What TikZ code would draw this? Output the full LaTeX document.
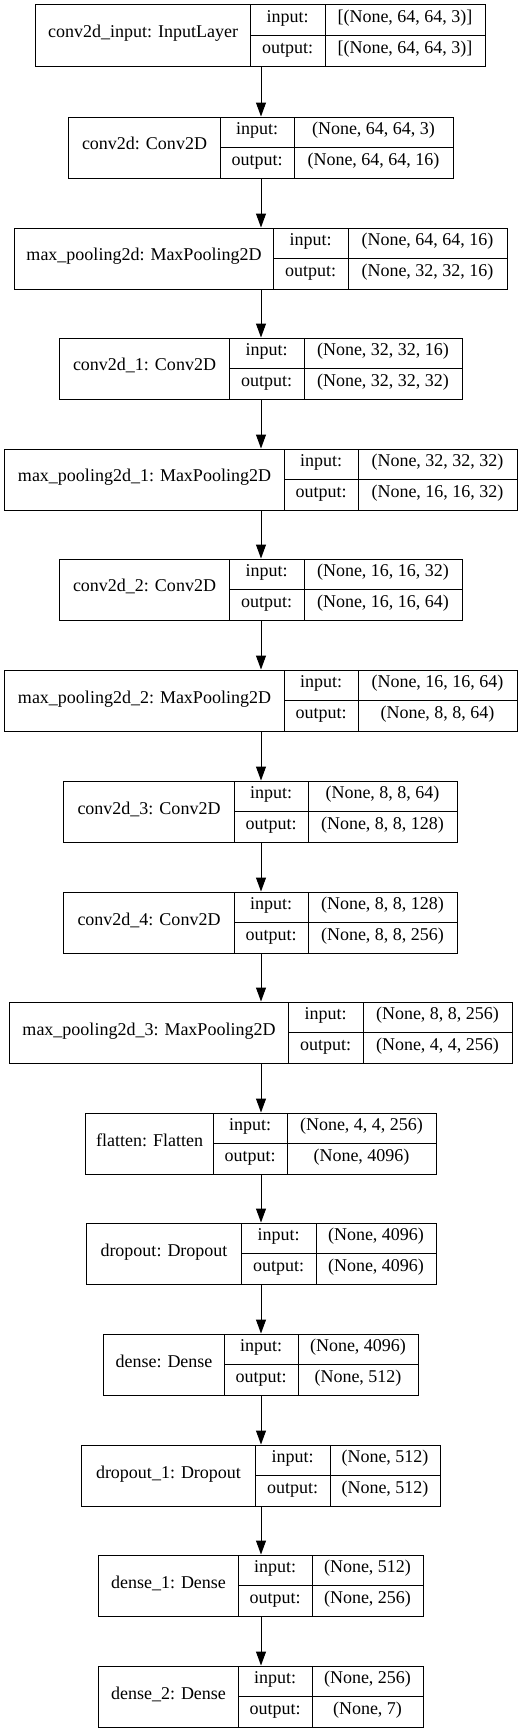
\documentclass[tikz,border=0pt]{standalone}
\usepackage{fontspec}
\setmainfont{Liberation Serif}
\usetikzlibrary{arrows.meta}
\tikzset{
  box/.style={draw=black, line width=1bp, rectangle, inner sep=0pt, outer sep=0pt, minimum height=61bp},
  div/.style={draw=black, line width=1bp},
  txt/.style={inner sep=0pt, outer sep=0pt, anchor=center, font=\fontsize{18bp}{21bp}\selectfont, text height=0.7em, text depth=0.2em},
  arr/.style={draw=black, line width=1bp, -{Triangle[length=14bp, width=10bp]}, shorten >=0.5bp}
}
% #1 name, #2 top, #3 left, #4 col1, #5 col2, #6 right, #7 label, #8 input, #9 output
\newcommand\kerasLayer[9]{%
  \pgfmathsetmacro\lyW{#6-#3}%
  \pgfmathsetmacro\lyX{(#3+#6)/2}%
  \pgfmathsetmacro\lyM{#2+30.5}%
  \pgfmathsetmacro\lyB{#2+61}%
  \pgfmathsetmacro\lyI{#2+15.25}%
  \pgfmathsetmacro\lyO{#2+45.75}%
  \node[box, minimum width=\lyW bp] (#1) at (\lyX,\lyM) {};
  \draw[div] (#4,#2) -- (#4,\lyB);
  \draw[div] (#5,#2) -- (#5,\lyB);
  \draw[div] (#4,\lyM) -- (#6,\lyM);
  \node[txt] (#1-name) at ({(#3+#4)/2},\lyM) {#7};
  \node[txt] (#1-inl) at ({(#4+#5)/2},\lyI) {input:};
  \node[txt] (#1-outl) at ({(#4+#5)/2},\lyO) {output:};
  \node[txt] (#1-inv) at ({(#5+#6)/2},\lyI) {#8};
  \node[txt] (#1-outv) at ({(#5+#6)/2},\lyO) {#9};
}
\begin{document}
\begin{tikzpicture}[x=1bp, y=-1bp]
\useasboundingbox[fill=white] (0,0) rectangle (523,1733);
\kerasLayer{l0}{5}{36}{250}{325}{485}{conv2d\_input: InputLayer}{[(None, 64, 64, 3)]}{[(None, 64, 64, 3)]}
\kerasLayer{l1}{117}{69}{220}{294}{453}{conv2d: Conv2D}{(None, 64, 64, 3)}{(None, 64, 64, 16)}
\kerasLayer{l2}{228}{15}{273}{348}{507}{max\_pooling2d: MaxPooling2D}{(None, 64, 64, 16)}{(None, 32, 32, 16)}
\kerasLayer{l3}{338}{60}{229}{304}{462}{conv2d\_1: Conv2D}{(None, 32, 32, 16)}{(None, 32, 32, 32)}
\kerasLayer{l4}{449}{5}{284}{358}{517}{max\_pooling2d\_1: MaxPooling2D}{(None, 32, 32, 32)}{(None, 16, 16, 32)}
\kerasLayer{l5}{559}{60}{229}{304}{462}{conv2d\_2: Conv2D}{(None, 16, 16, 32)}{(None, 16, 16, 64)}
\kerasLayer{l6}{670}{5}{284}{358}{517}{max\_pooling2d\_2: MaxPooling2D}{(None, 16, 16, 64)}{(None, 8, 8, 64)}
\kerasLayer{l7}{781}{64}{234}{308}{457}{conv2d\_3: Conv2D}{(None, 8, 8, 64)}{(None, 8, 8, 128)}
\kerasLayer{l8}{892}{64}{234}{308}{457}{conv2d\_4: Conv2D}{(None, 8, 8, 128)}{(None, 8, 8, 256)}
\kerasLayer{l9}{1002}{10}{288}{363}{512}{max\_pooling2d\_3: MaxPooling2D}{(None, 8, 8, 256)}{(None, 4, 4, 256)}
\kerasLayer{l10}{1113}{86}{213}{287}{436}{flatten: Flatten}{(None, 4, 4, 256)}{(None, 4096)}
\kerasLayer{l11}{1223}{87}{241}{316}{436}{dropout: Dropout}{(None, 4096)}{(None, 4096)}
\kerasLayer{l12}{1334}{104}{224}{298}{418}{dense: Dense}{(None, 4096)}{(None, 512)}
\kerasLayer{l13}{1445}{82}{255}{330}{440}{dropout\_1: Dropout}{(None, 512)}{(None, 512)}
\kerasLayer{l14}{1555}{99}{238}{312}{423}{dense\_1: Dense}{(None, 512)}{(None, 256)}
\kerasLayer{l15}{1666}{99}{238}{312}{423}{dense\_2: Dense}{(None, 256)}{(None, 7)}
\foreach \a/\b in {l0/l1,l1/l2,l2/l3,l3/l4,l4/l5,l5/l6,l6/l7,l7/l8,l8/l9,l9/l10,l10/l11,l11/l12,l12/l13,l13/l14,l14/l15}{
  \draw[arr] (\a.south -| 261,0) -- (\b.north -| 261,0);
}
\end{tikzpicture}
\end{document}
